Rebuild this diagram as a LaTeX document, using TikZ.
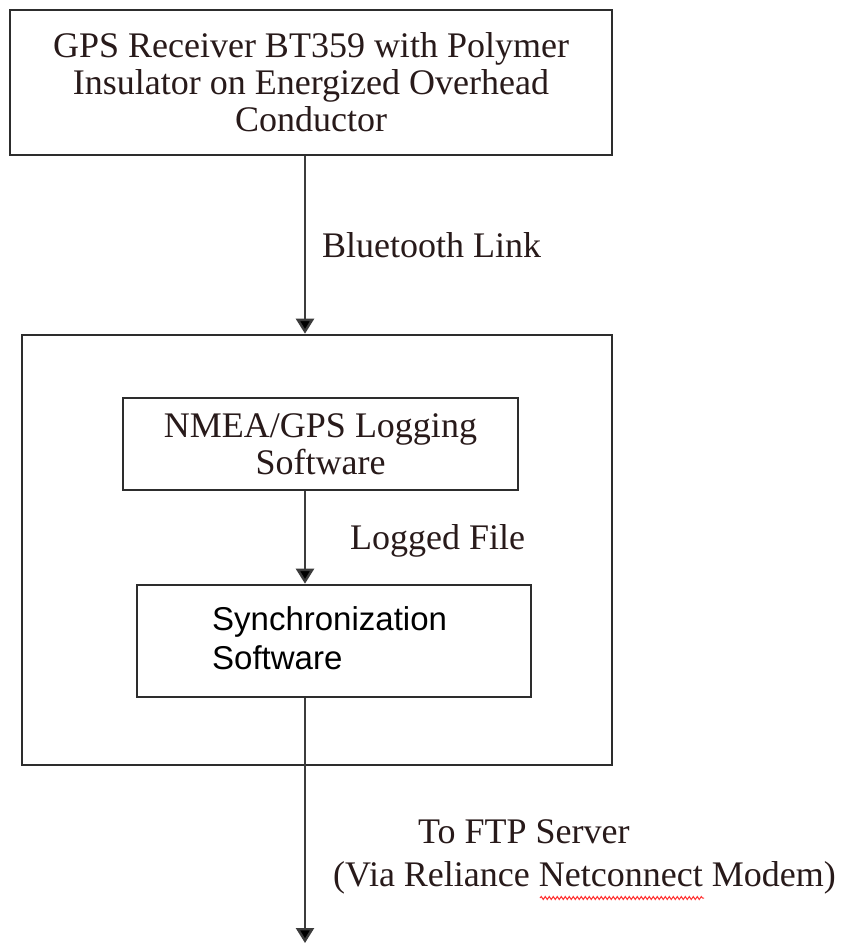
\documentclass[tikz,border=0pt]{standalone}
\usepackage{fontspec}
\setmainfont{Liberation Serif}
\setsansfont{Liberation Sans}
\usetikzlibrary{arrows.meta,decorations.pathmorphing}
\definecolor{inkc}{RGB}{40,26,26}
\definecolor{framec}{RGB}{45,45,45}
\definecolor{wirec}{RGB}{60,60,60}
\tikzset{
  frame/.style={draw=framec, line width=2.6pt, inner sep=0pt},
  serifbox/.style={frame, align=center, text=inkc,
    font=\fontsize{36}{37}\selectfont},
  lbl/.style={anchor=west, inner sep=0pt, text=inkc,
    font=\fontsize{36}{37}\selectfont},
  arr/.style={draw=wirec, line width=2.4pt,
    -{Triangle[width=18pt,length=15pt,fill=black]}}
}
\begin{document}
\begin{tikzpicture}[x=1pt,y=-1pt]
  \useasboundingbox (0,0) rectangle (848,947);
  \fill[white] (0,0) rectangle (848,947);

  % vertical axis of the signal flow
  \coordinate (axis) at (305,0);

  % receiver on the conductor
  \node[serifbox, minimum width=602pt, minimum height=145pt] (gps) at (311,82.5)
    {GPS Receiver BT359 with Polymer\\Insulator on Energized Overhead\\Conductor};

  % enclosing unit
  \node[frame, minimum width=590pt, minimum height=430pt] (unit) at (317,550) {};

  % logging software
  \node[serifbox, minimum width=395pt, minimum height=92pt] (nmea) at (320.5,444)
    {NMEA/GPS Logging\\Software};

  % synchronization software
  \node[frame, minimum width=394pt, minimum height=112pt] (sync) at (334,641) {};
  \node[anchor=west, inner sep=0pt, align=left, text=black,
        font=\sffamily\fontsize{33}{39}\selectfont] (synctext) at (212,638)
    {Synchronization\\Software};

  % connectors
  \draw[arr] (gps.south -| axis) -- (unit.north -| axis);
  \draw[arr] (nmea.south -| axis) -- (sync.north -| axis);
  \coordinate (ftp) at (305,943);
  \draw[arr] (sync.south -| axis) -- (ftp);

  % connector labels
  \node[lbl] (bt) at (322,245) {Bluetooth Link};
  \node[lbl] (logged) at (350,541) {Logged File};
  \node[lbl] (server) at (418,832) {To FTP Server};
  \node[lbl] (modem) at (333,878) {(Via Reliance Netconnect Modem)};

  % spell-check squiggle under "Netconnect"
  \draw[red!80, line width=1pt,
        decorate, decoration={snake, segment length=4pt, amplitude=1.5pt}]
    (540,898) -- (704,898);
\end{tikzpicture}
\end{document}
